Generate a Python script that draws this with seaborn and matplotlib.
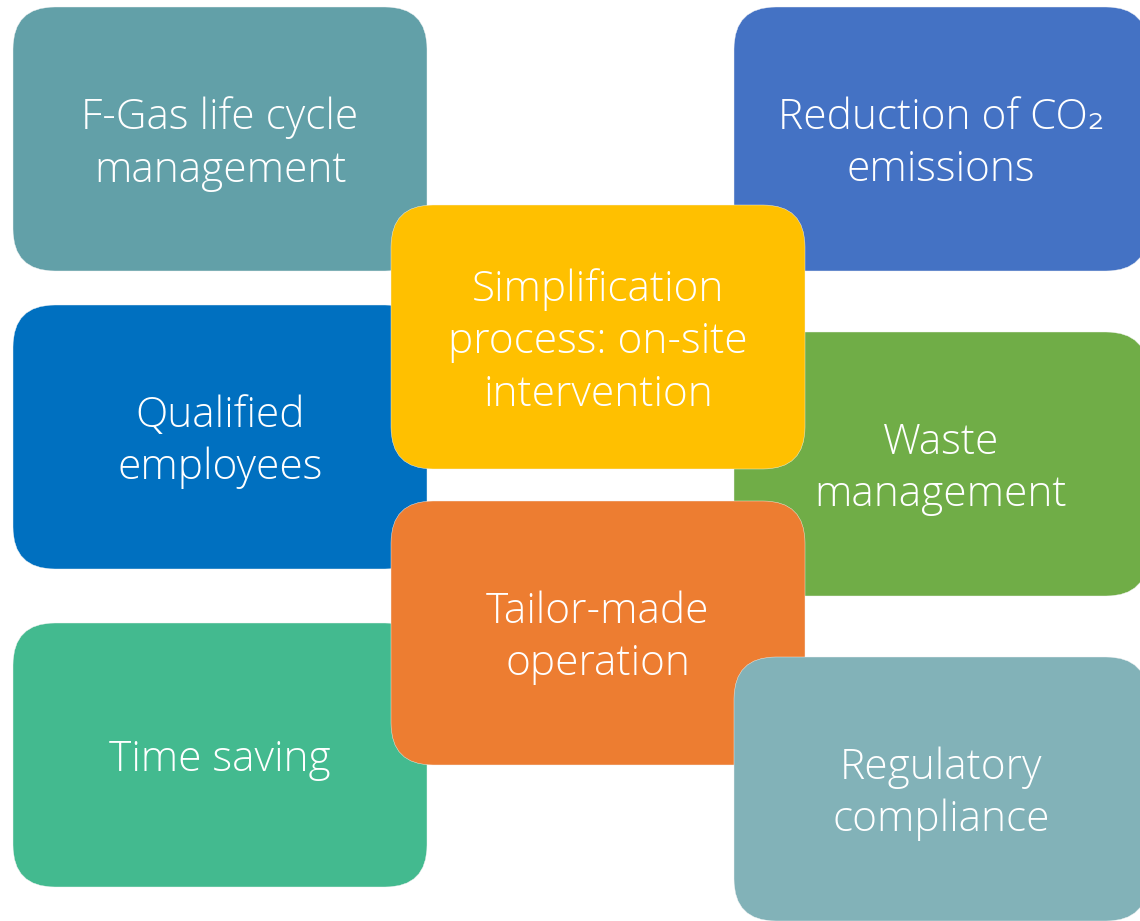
import matplotlib.pyplot as plt
import seaborn as sns
from matplotlib.patches import FancyBboxPatch

# box labels and fill colours, drawn in this order (later boxes sit on top)
labels = [
    "F-Gas life cycle\nmanagement",
    "Reduction of CO\u2082\nemissions",
    "Qualified\nemployees",
    "Waste\nmanagement",
    "Time saving",
    "Simplification\nprocess: on-site\nintervention",
    "Tailor-made\noperation",
    "Regulatory\ncompliance",
]
colors = ["#62A0A8", "#4472C4", "#0070C0", "#70AD47",
          "#43BA8F", "#FFC000", "#ED7D31", "#82B2B8"]

# layout in pixel space: left edge, top edge of each box
box_x = [13, 734, 13, 734, 13, 391, 391, 734]
box_y = [7, 7, 305, 332, 623, 205, 501, 657]
box_w, box_h, radius = 414, 264, 42

sns.set_theme(style="white")
plt.rcParams['font.family'] = ['Open Sans', 'DejaVu Sans']

fig = plt.figure(figsize=(11.4, 9.21), dpi=100)
ax = fig.add_axes([0, 0, 1, 1])
ax.set_xlim(0, 1140)
ax.set_ylim(921, 0)
ax.axis('off')

for i, (lab, col) in enumerate(zip(labels, colors)):
    x, y = box_x[i], box_y[i]
    patch = FancyBboxPatch((x + radius, y + radius), box_w - 2 * radius, box_h - 2 * radius,
                           boxstyle=f"round,pad={radius},rounding_size={radius}",
                           facecolor=col, edgecolor='#f4f4f4', linewidth=0.3, zorder=i + 1)
    ax.add_patch(patch)
    ax.text(x + box_w / 2, y + box_h / 2 + 5, lab, ha='center', va='center',
            color='white', fontsize=30.5, fontweight='light', linespacing=1.3,
            zorder=i + 1.5)

fig.savefig('out.png', dpi=100)
